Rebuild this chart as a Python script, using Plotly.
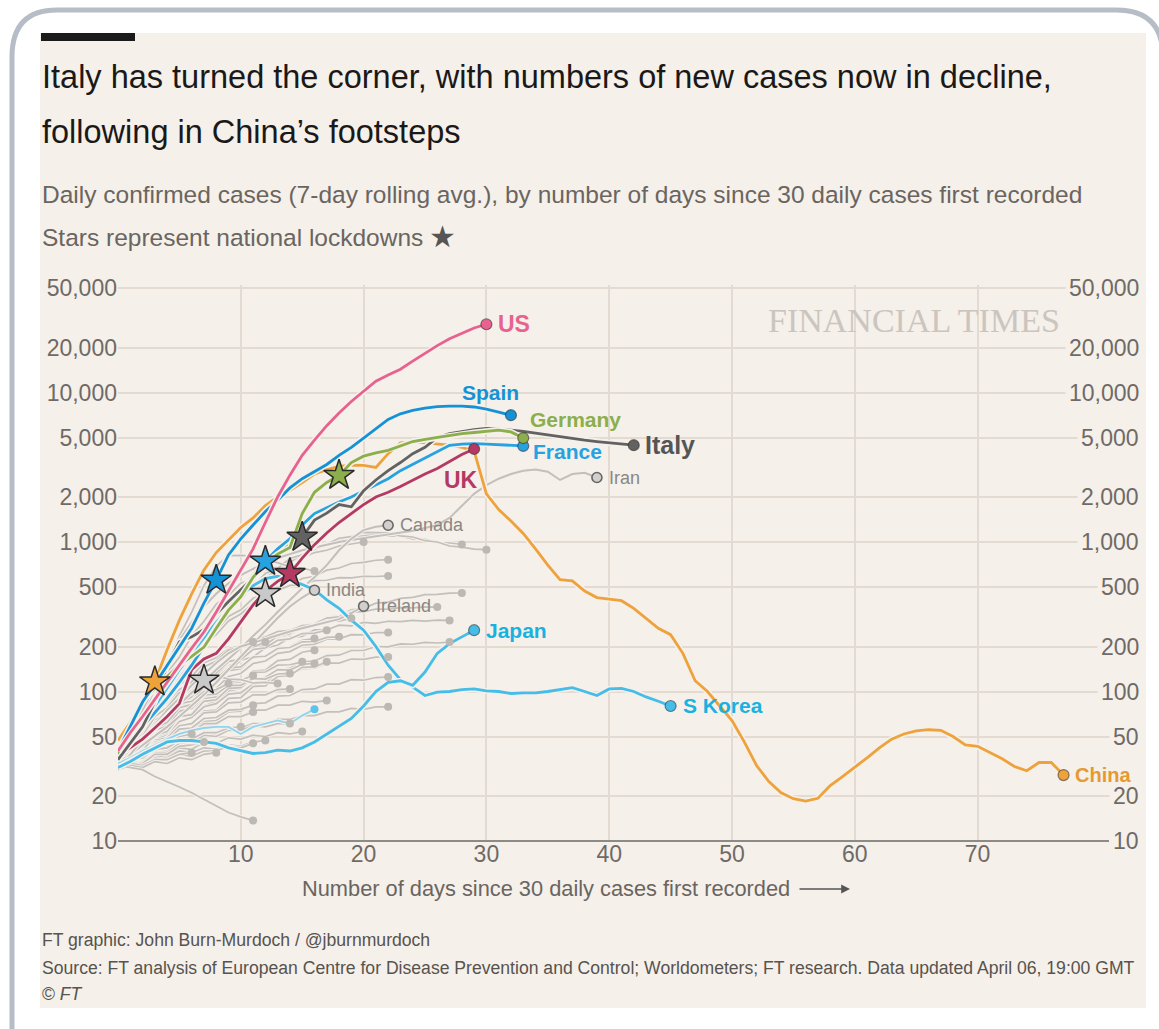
import math
import plotly.graph_objects as go

# ---------------- data (7-day avg daily cases, index = days since 30 daily cases) ----------------
us      = [40, 53, 68, 88, 115, 150, 195, 250, 340, 470, 640, 900, 1350, 2000, 2800, 3800, 4800, 6000, 7300, 8700,
           10200, 11900, 13100, 14300, 16200, 18300, 20600, 22900, 25000, 27000, 28600]
spain   = [40, 58, 85, 112, 150, 200, 265, 390, 555, 820, 1050, 1300, 1600, 1900, 2300, 2650, 2950, 3300, 3800, 4300,
           4950, 5700, 6600, 7200, 7600, 7850, 8050, 8100, 8100, 8000, 7750, 7400, 7050]
germany = [39, 58, 87, 105, 125, 150, 172, 198, 265, 350, 430, 580, 720, 830, 918, 1550, 2150, 2500, 2790, 3400,
           3750, 3950, 4100, 4400, 4700, 4850, 5000, 5150, 5300, 5400, 5500, 5600, 5450, 4960]
france  = [38, 45, 58, 72, 90, 115, 150, 200, 270, 360, 470, 600, 743, 900, 1050, 1300, 1550, 1700, 1850, 2000,
           2200, 2400, 2650, 3000, 3300, 3650, 4000, 4430, 4520, 4550, 4520, 4490, 4450, 4390]
italy   = [35, 45, 58, 85, 150, 215, 232, 260, 330, 400, 480, 580, 690, 820, 960, 1075, 1400, 1560, 1780, 1720,
           2200, 2600, 3000, 3400, 3900, 4300, 5000, 5300, 5500, 5650, 5750, 5700, 5600, 5500, 5350, 5200, 5050,
           4900, 4800, 4700, 4600, 4520, 4440]
uk      = [37, 42, 48, 57, 68, 83, 140, 165, 180, 225, 290, 380, 470, 545, 615, 780, 960, 1150, 1350, 1550,
           1780, 2000, 2150, 2350, 2600, 2850, 3100, 3450, 3850, 4190]
china   = [47, 62, 85, 116, 190, 300, 450, 650, 850, 1030, 1250, 1450, 1750, 2000, 2220, 2500, 2850, 3050, 3200, 3260,
           3250, 3150, 3900, 4600, 4680, 4600, 4550, 4450, 4300, 4050, 2100, 1650, 1380, 1140, 900, 700, 560, 550,
           470, 425, 415, 405, 360, 310, 265, 240, 180, 118, 100, 80, 64, 46, 32, 25, 21, 19.2, 18.5, 19.3, 23.5,
           27, 31, 36, 42, 48, 52, 54.5, 55.5, 55, 50, 44, 43, 39, 35.5, 31.5, 29.5, 33.5, 33.5, 27.6]
japan   = [31, 34, 38, 42, 46, 47, 47, 46, 45, 42, 40, 38.5, 39, 40.5, 40, 42, 46, 52, 58, 66,
           80, 100, 115, 118, 110, 135, 180, 209, 232, 257]
skorea  = [35, 45, 60, 80, 105, 140, 180, 230, 290, 360, 440, 510, 570, 590, 560, 520, 480, 410, 360, 300,
           257, 200, 150, 120, 107, 94, 99, 100, 103, 104, 101, 100, 97, 98, 98, 100, 103, 106, 100, 94,
           104, 105, 100, 92, 86, 80]
iran    = [35, 50, 75, 110, 160, 220, 290, 370, 450, 530, 600, 660, 720, 780, 830, 880, 920, 960, 1000, 1030,
           1060, 1090, 1120, 1150, 1190, 1240, 1300, 1450, 1750, 2100, 2400, 2650, 2850, 3000, 3050, 2950, 2600,
           2850, 2900, 2700]
canada  = [32, 38, 46, 56, 68, 82, 98, 118, 140, 165, 195, 235, 280, 340, 410, 490, 580, 700, 880, 1050,
           1200, 1265, 1294]
india   = [33, 38, 44, 50, 58, 68, 80, 95, 115, 140, 170, 210, 255, 310, 370, 425, 476]
ireland = [30, 38, 48, 60, 75, 90, 110, 130, 155, 180, 200, 212, 225, 240, 252, 265, 278, 290, 305, 335, 372]
cyan_other = [33, 36, 40, 44, 48, 52, 55, 57, 58, 58, 52, 58, 61, 64, 61, 69, 76]

# other countries (unlabelled grey lines)
gA = [34, 47, 70, 92, 133, 170, 236, 295, 384, 440, 530, 570, 650, 680, 752, 785, 850, 880, 940, 965, 1000]
gB = [32, 44, 53, 75, 92, 128, 155, 205, 240, 296, 330, 388, 420, 478, 505, 570, 590, 648, 670, 718, 730, 755, 762]
gC = [30, 41, 53, 77, 98, 134, 165, 226, 275, 356, 410, 510, 570, 672, 730, 830, 890, 985, 1020, 1095, 1100, 1130,
      1100, 1095, 1050, 1040, 990, 985, 964]
gD = [32, 40, 60, 75, 108, 136, 190, 232, 310, 360, 452, 505, 615, 665, 775, 820, 930, 965, 1060, 1085, 1160, 1150,
      1150, 1100, 1080, 1020, 1000, 940, 925, 895, 889]
gE = [31, 43, 56, 82, 102, 138, 166, 215, 255, 318, 352, 420, 452, 475, 512, 518, 552, 555, 578, 576, 590, 588, 593]
gF = [33, 50, 68, 104, 146, 236, 340, 512, 690, 810, 815, 805, 750, 728, 682, 668, 640]
gG = [30, 37, 43, 55, 62, 80, 89, 112, 121, 150, 160, 190, 200, 232, 240, 272, 280, 312, 320, 352, 360, 390, 396,
      420, 426, 444, 446, 455, 456]
gH = [31, 38, 44, 57, 64, 82, 91, 115, 126, 155, 165, 196, 204, 236, 244, 276, 284, 310, 316, 340, 342, 356, 355,
      364, 363, 368, 367]
gI = [32, 37, 47, 54, 68, 76, 95, 104, 127, 136, 162, 170, 196, 204, 230, 234, 258, 258, 278, 275, 290, 286, 295,
      293, 299, 296, 300, 299]
gJ = [30, 36, 41, 52, 57, 72, 80, 98, 105, 126, 132, 154, 160, 180, 185, 204, 207, 224, 225, 240, 239, 248, 248]
gK = [30, 35, 38, 46, 51, 62, 67, 80, 86, 101, 105, 121, 125, 140, 143, 158, 160, 174, 175, 188, 188, 200, 199,
      208, 207, 213, 211, 214]
gL = [31, 36, 39, 47, 52, 63, 67, 79, 83, 96, 98, 112, 114, 128, 129, 142, 143, 155, 155, 165, 164, 170, 170]
gM = [30, 34, 36, 42, 45, 52, 55, 63, 64, 73, 74, 83, 84, 93, 94, 103, 104, 112, 112, 120, 119, 124, 125]
gN = [30, 33, 34, 39, 40, 45, 46, 51, 52, 57, 57, 61, 61, 65, 65, 69, 69, 73, 73, 77, 76, 79, 79]
gO = [33, 43, 53, 72, 85, 111, 126, 156, 168, 194, 201, 224, 231, 252, 256, 276, 279, 296, 296, 309]
gP = [31, 41, 50, 68, 79, 103, 116, 146, 160, 190, 196, 214]
gQ = [30, 37, 42, 56, 63, 83, 92, 118, 128, 157, 166, 198, 214]
gR = [32, 39, 44, 57, 63, 81, 86, 108, 113, 138, 142, 168, 172, 196, 200, 220, 226]
gS = [31, 40, 47, 63, 72, 93, 102, 126, 133, 159, 164, 191, 196, 220, 225, 244, 246, 257]
gT = [33, 42, 49, 64, 71, 90, 96, 117, 121, 144, 146, 170, 172, 194, 197, 215, 216, 230, 232]
gU = [30, 36, 39, 50, 53, 68, 71, 90, 92, 113, 115, 137, 139, 161, 164, 183, 189]
gV = [32, 39, 43, 55, 59, 74, 77, 93, 96, 114, 116, 134, 135, 150, 151, 158]
gW = [31, 37, 40, 51, 54, 68, 70, 86, 88, 105, 106, 123, 124, 140, 139, 152, 154]
gX = [30, 35, 37, 46, 48, 59, 61, 74, 75, 90, 91, 108, 109, 126, 128, 145, 146, 158]
gY = [33, 41, 46, 59, 63, 78, 80, 95, 96, 110, 110, 122, 121, 131, 132]
gZ = [31, 39, 44, 57, 62, 78, 82, 98, 101, 117, 119, 128]
gAA = [31, 41, 50, 68, 78, 98, 106, 119, 127, 121, 120, 114, 115, 113]
gAB = [30, 35, 37, 47, 49, 59, 61, 72, 73, 84, 85, 95, 95, 103, 104]
gAC = [32, 41, 48, 62, 68, 83, 86, 100, 103, 113]
gAD = [31, 35, 36, 44, 45, 52, 52, 60, 60, 68, 68, 75, 75, 81, 81, 86, 85, 87]
gAE = [30, 35, 37, 46, 47, 56, 57, 66, 67, 75, 76, 81]
gAF = [32, 36, 37, 45, 45, 53, 53, 61, 61, 68, 68, 73]
gAG = [30, 33, 33, 39, 39, 45, 45, 51, 50, 55, 55, 59, 58, 61, 61]
gAH = [31, 34, 33, 38, 37, 42, 41, 46, 45, 49, 48, 51, 50, 53, 52, 54]
gAI = [30, 33, 32, 37, 36, 40, 39, 42, 41, 44, 43, 46, 47]
gAJ = [31, 33, 32, 36, 35, 38, 37, 40, 40, 43, 42, 45]
gAK = [32, 36, 37, 43, 44, 50, 52]
gAL = [30, 33, 33, 38, 38, 43, 44, 46]
gAM = [31, 33, 32, 35, 35, 38, 39]
gAN = [30, 32, 31, 34, 33, 36, 35, 38, 39]
gAO = [32, 35, 36, 41, 42, 47, 48, 53, 53, 57, 58]
gAP = [32, 31, 30, 27, 25, 23, 21, 19, 17, 15.5, 14.5, 13.7]

grey_lines = [gA, gB, gC, gD, gE, gF, gG, gH, gI, gJ, gK, gL, gM, gN, gO, gP, gQ, gR, gS, gT, gU, gV, gW,
              gX, gY, gZ, gAA, gAB, gAC, gAD, gAE, gAF, gAG, gAH, gAI, gAJ, gAK, gAL, gAM, gAN, gAO, gAP]

# national lockdowns: (series, day index)
lockdown_series = [china, gAA, spain, france, gE, uk, italy, germany]
lockdown_days   = [3, 7, 8, 12, 12, 14, 15, 18]

y_tickvals = [10, 20, 50, 100, 200, 500, 1000, 2000, 5000, 10000, 20000, 50000]
y_ticktext = ["10", "20", "50", "100", "200", "500", "1,000", "2,000", "5,000", "10,000", "20,000", "50,000"]
x_tickvals = [10, 20, 30, 40, 50, 60, 70]

# ---------------- styling ----------------
W, H = 1159, 1029
L, R, T, B = 118, 1140, 285, 841        # plot area in pixels
PX_PER_DAY = 12.28
PX_PER_DEC = 149.5
FONT = "Liberation Sans, Arial, sans-serif"
BG = "#f5f0ea"
GRID = "#e3dbd2"
TICK = "#6f6a66"
GREY_LINE = "#c3bfbb"

C_US, C_SPAIN, C_GER, C_FRA = "#e8628f", "#1592d6", "#8cae4b", "#27a2e0"
C_ITA, C_UK, C_CHINA, C_CYAN = "#626262", "#b43a63", "#eea23c", "#45bde8"


def fx(px):
    return (px - L) / (R - L)


def fy(py):
    return (B - py) / (B - T)


fig = go.Figure()


def add_line(vals, color, width, halo_w):
    xs = list(range(len(vals)))
    fig.add_trace(go.Scatter(x=xs, y=vals, mode="lines", line=dict(color=BG, width=halo_w),
                             hoverinfo="skip"))
    fig.add_trace(go.Scatter(x=xs, y=vals, mode="lines", line=dict(color=color, width=width),
                             hoverinfo="skip"))


for g in grey_lines:
    add_line(g, GREY_LINE, 1.7, 3.6)
for g in [iran, canada, india, ireland]:
    add_line(g, GREY_LINE, 2.0, 4)
add_line(cyan_other, "#8fd3ee", 1.8, 4)

highlight = [
    (skorea, C_CYAN), (japan, C_CYAN), (china, C_CHINA), (uk, C_UK), (france, C_FRA),
    (italy, C_ITA), (germany, C_GER), (spain, C_SPAIN), (us, C_US),
]
for vals, col in highlight:
    add_line(vals, col, 2.8, 6)

# unlabelled grey end dots
fig.add_trace(go.Scatter(x=[len(g) - 1 for g in grey_lines] + [len(cyan_other) - 1],
                         y=[g[-1] for g in grey_lines] + [cyan_other[-1]], mode="markers",
                         marker=dict(size=8, color=["#bcb8b4"] * len(grey_lines) + ["#5cc4ea"]),
                         hoverinfo="skip"))
# labelled grey end dots
lab_grey = [iran, canada, india, ireland]
fig.add_trace(go.Scatter(x=[len(g) - 1 for g in lab_grey], y=[g[-1] for g in lab_grey], mode="markers",
                         marker=dict(size=10, color="#d2cfcc", line=dict(color="#666666", width=1.6)),
                         hoverinfo="skip"))

# lockdown stars
star_colors = [C_CHINA, "#c9c9c9", C_SPAIN, C_FRA, "#c9c9c9", C_UK, C_ITA, C_GER]
fig.add_trace(go.Scatter(x=lockdown_days, y=[s[d] for s, d in zip(lockdown_series, lockdown_days)],
                         mode="markers",
                         marker=dict(symbol="star", size=23, color=star_colors,
                                     line=dict(color="#2b2b2b", width=1.5)),
                         hoverinfo="skip"))

# highlighted end dots
fig.add_trace(go.Scatter(x=[len(v) - 1 for v, c in highlight], y=[v[-1] for v, c in highlight],
                         mode="markers",
                         marker=dict(size=11, color=[c for v, c in highlight],
                                     line=dict(color="rgba(40,40,40,0.55)", width=1.2)),
                         hoverinfo="skip"))

annotations = []

# right-hand axis labels (masking the gridline end like the original); drawn first so labels sit on top
for v, t in zip(y_tickvals, y_ticktext):
    annotations.append(dict(x=1, y=math.log10(v), xref="paper", yref="y", text=t, showarrow=False,
                            xanchor="right", yanchor="middle", xshift=3, bgcolor=BG, borderpad=3,
                            font=dict(family=FONT, size=23, color=TICK)))


def label(text, vals, color, size, bold=True, xanchor="left", xshift=10, yshift=0):
    annotations.append(dict(x=len(vals) - 1, y=math.log10(vals[-1]), xref="x", yref="y", text=text,
                            showarrow=False, xanchor=xanchor, yanchor="middle", xshift=xshift,
                            yshift=yshift,
                            font=dict(family=FONT, size=size, color=color,
                                      weight="bold" if bold else "normal")))


label("US", us, C_US, 23)
label("Spain", spain, C_SPAIN, 21, xanchor="center", xshift=-20, yshift=23)
label("Germany", germany, C_GER, 21, xshift=5, yshift=19)
label("France", france, C_FRA, 21, xshift=8, yshift=-6)
label("Italy", italy, "#555555", 25, xshift=9)
label("UK", uk, C_UK, 23, xanchor="right", xshift=6, yshift=-31)
label("Japan", japan, "#19b2df", 21)
label("S Korea", skorea, "#19b2df", 21)
label("China", china, "#e59a2f", 20, xshift=9)
label("Iran", iran, "#8a8784", 18, bold=False)
label("Canada", canada, "#8a8784", 18, bold=False)
label("India", india, "#8a8784", 18, bold=False)
label("Ireland", ireland, "#8a8784", 18, bold=False)


def text_ann(text, px, py, size, color, xanchor="left", family=FONT, weight="normal"):
    annotations.append(dict(x=fx(px), y=fy(py), xref="paper", yref="paper", text=text, showarrow=False,
                            xanchor=xanchor, yanchor="middle",
                            font=dict(family=family, size=size, color=color, weight=weight)))


text_ann("Italy has turned the corner, with numbers of new cases now in decline,", 40, 77, 32.5, "#1b1918")
text_ann("following in China’s footsteps", 40, 132, 32.5, "#1b1918")
text_ann("Daily confirmed cases (7-day rolling avg.), by number of days since 30 daily cases first recorded",
         40, 195, 24.5, "#6a6560")
text_ann("Stars represent national lockdowns", 40, 237, 24.5, "#6a6560")
text_ann("★", 427, 236, 30, "#555555", family="DejaVu Sans")
text_ann("FINANCIAL TIMES", 914, 320, 34, "#cbc5bf", xanchor="center", family="Liberation Serif, serif")
text_ann("Number of days since 30 daily cases first recorded", 546, 888, 21.8, "#6a6560", xanchor="center")
text_ann("FT graphic: John Burn-Murdoch / @jburnmurdoch", 40, 940, 17.6, "#57534f")
text_ann("Source: FT analysis of European Centre for Disease Prevention and Control; Worldometers; "
         "FT research. Data updated April 06, 19:00 GMT", 40, 968, 17.6, "#57534f")
text_ann("© <i>FT</i>", 40, 994, 17.6, "#57534f")

# arrow after the x-axis title
annotations.append(dict(x=fx(850), y=fy(889), xref="paper", yref="paper",
                        ax=-52, ay=0, axref="pixel", ayref="pixel", text="", showarrow=True,
                        arrowhead=2, arrowsize=1.1, arrowwidth=1.6, arrowcolor="#555555"))

shapes = [
    # white card with rounded grey border
    dict(type="path", xref="paper", yref="paper", layer="below",
         path=(f"M {fx(12)},{fy(1060)} L {fx(12)},{fy(57)} Q {fx(12)},{fy(10)} {fx(57)},{fy(10)} "
               f"L {fx(1116)},{fy(10)} Q {fx(1163)},{fy(10)} {fx(1163)},{fy(57)}"),
         line=dict(color="#b6bdc6", width=5)),
    # beige panel
    dict(type="rect", xref="paper", yref="paper", layer="below",
         x0=fx(40), x1=fx(1146), y0=fy(1008), y1=fy(33), fillcolor=BG, line=dict(width=0)),
    # black bar
    dict(type="rect", xref="paper", yref="paper", layer="above",
         x0=fx(41), x1=fx(135), y0=fy(41), y1=fy(33), fillcolor="#1b1b1b", line=dict(width=0)),
    # bottom axis line
    dict(type="line", xref="x", yref="paper", layer="above", x0=0, x1=80.7, y0=0, y1=0,
         line=dict(color="#8e8a86", width=2)),
]

fig.update_layout(
    width=W, height=H,
    margin=dict(l=L, r=W - R, t=T, b=H - B, autoexpand=False),
    paper_bgcolor="white", plot_bgcolor="rgba(0,0,0,0)",
    showlegend=False,
    xaxis=dict(range=[0, (R - L) / PX_PER_DAY], tickvals=x_tickvals, showgrid=True, gridcolor=GRID,
               gridwidth=1.5, zeroline=False, showline=False, ticks="", ticklabelstandoff=-3,
               tickfont=dict(family=FONT, size=23, color=TICK)),
    yaxis=dict(type="log", range=[1, 1 + (B - T) / PX_PER_DEC], tickvals=y_tickvals, ticktext=y_ticktext,
               showgrid=True, gridcolor=GRID, gridwidth=1.5, zeroline=False, showline=False,
               ticks="", ticklabelstandoff=0,
               tickfont=dict(family=FONT, size=23, color=TICK)),
    annotations=annotations,
    shapes=shapes,
)

fig.write_html("out.html", config={"displayModeBar": False},
               post_script="document.body.style.margin='0';")
